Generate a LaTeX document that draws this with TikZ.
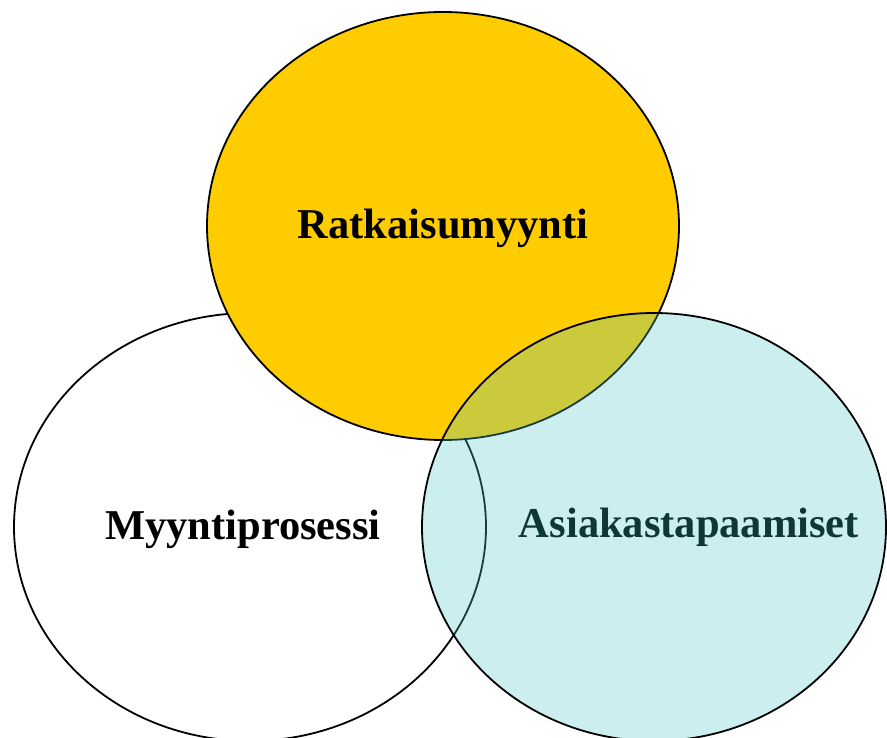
\documentclass[tikz,border=0pt]{standalone}
\usepackage{fontspec}
\setmainfont{Liberation Serif}
\usetikzlibrary{shapes.geometric}
\definecolor{ratyellow}{RGB}{255,204,0}
\definecolor{asiacyan}{RGB}{85,200,200}
\definecolor{asiatext}{RGB}{15,55,55}
\tikzset{
  venn/.style={ellipse, draw=black, line width=1.8pt, inner sep=0pt, outer sep=0pt,
    minimum width=472pt, minimum height=428pt},
  lbl/.style={font=\fontsize{42.5}{50}\selectfont\bfseries, inner sep=0pt, anchor=base}
}
\begin{document}
\begin{tikzpicture}[x=1pt,y=-1pt]
\useasboundingbox (0,0) rectangle (887,738);
\clip (0,0) rectangle (887,738);
\node[venn, fill=white] (myynti) at (250,527) {};
\node[venn, fill=ratyellow] (ratkaisu) at (443,226) {};
\node[venn, minimum width=464pt, fill=asiacyan, fill opacity=0.3] (asiakas) at (654,527) {};
\node[lbl] (tratkaisu) at (443,239) {Ratkaisumyynti};
\node[lbl] (tmyynti) at (243,539) {Myyntiprosessi};
\node[lbl, text=asiatext] (tasiakas) at (689,537) {Asiakastapaamiset};
\end{tikzpicture}
\end{document}
